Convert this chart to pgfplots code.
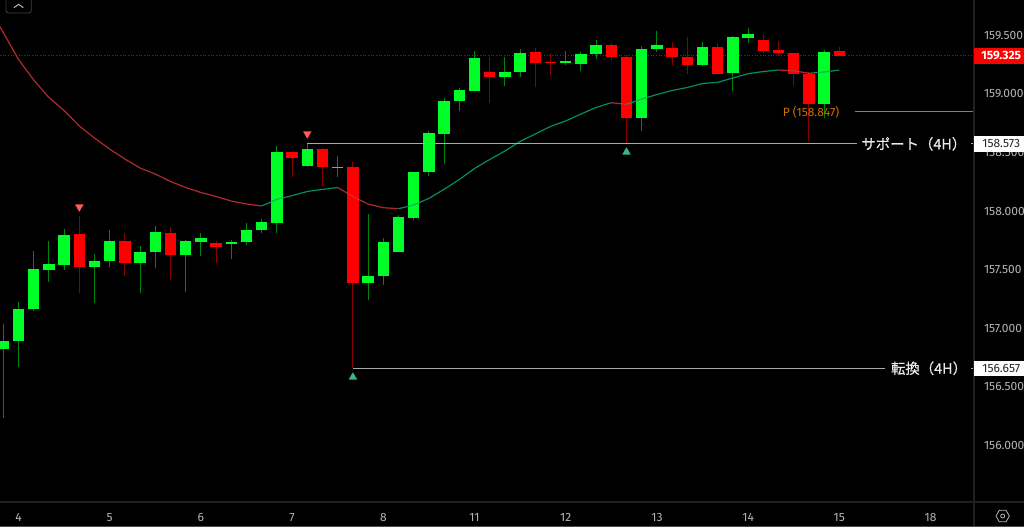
\documentclass[border=0pt]{standalone}
\usepackage{fontspec}
\usepackage{pgfplots}
\usepackage{pgfplotstable}
\pgfplotsset{compat=1.18}
\usetikzlibrary{shapes.geometric}
\setmainfont{Fira Sans}
\newfontfamily\jp[FakeBold=0.4]{Noto Sans CJK JP}
\definecolor{gbody}{RGB}{0,255,40}
\definecolor{rbody}{RGB}{255,0,0}
\definecolor{gwick}{RGB}{0,135,10}
\definecolor{rwick}{RGB}{140,0,0}
\definecolor{emar}{RGB}{205,50,55}
\definecolor{emag}{RGB}{8,165,110}
\definecolor{levelc}{RGB}{170,170,170}
\definecolor{pivotc}{RGB}{200,115,0}
\definecolor{axc}{RGB}{30,32,38}
\definecolor{txt}{RGB}{178,180,184}
\definecolor{currc}{RGB}{150,25,15}
% i  body top, body bottom, high, low
\pgfplotstableread{
i top bot hi lo
0 156.890 156.819 157.032 156.235
1 157.161 156.887 157.220 156.670
2 157.502 157.163 157.658 157.149
3 157.545 157.499 157.746 157.394
4 157.798 157.539 157.844 157.496
6 157.573 157.524 157.630 157.212
7 157.741 157.573 157.838 157.524
9 157.647 157.556 157.701 157.302
10 157.821 157.650 157.872 157.516
12 157.741 157.624 157.752 157.306
13 157.769 157.738 157.810 157.618
15 157.738 157.721 157.752 157.593
16 157.835 157.735 157.895 157.707
17 157.903 157.835 157.934 157.815
18 158.504 157.898 158.555 157.815
20 158.527 158.387 158.572 158.378
22 158.376 158.370 158.472 158.288
24 157.445 157.385 157.977 157.237
25 157.735 157.442 157.769 157.371
26 157.946 157.650 157.963 157.650
27 158.333 157.943 158.333 157.923
28 158.664 158.336 158.683 158.299
29 158.939 158.658 158.965 158.401
30 159.036 158.937 159.050 158.851
31 159.304 159.027 159.364 159.027
33 159.190 159.144 159.313 159.070
34 159.352 159.187 159.381 159.147
37 159.284 159.264 159.364 159.249
38 159.341 159.258 159.360 159.196
39 159.415 159.338 159.460 159.296
42 159.381 158.794 159.409 158.683
43 159.420 159.381 159.540 159.360
46 159.403 159.244 159.443 159.238
48 159.483 159.176 159.495 159.025
49 159.514 159.480 159.563 159.437
54 159.360 158.914 159.375 158.797
}\upcandles
\pgfplotstableread{
i top bot hi lo
5 157.804 157.524 157.957 157.302
8 157.746 157.558 157.810 157.447
11 157.815 157.624 157.861 157.411
14 157.727 157.693 157.744 157.556
19 158.504 158.455 158.504 158.293
21 158.532 158.373 158.538 158.216
23 158.376 157.385 158.418 156.657
32 159.190 159.144 159.313 158.920
35 159.355 159.264 159.389 159.056
36 159.270 159.264 159.347 159.161
40 159.415 159.313 159.432 159.284
41 159.315 158.794 159.332 158.572
44 159.389 159.313 159.441 159.244
45 159.315 159.244 159.489 159.170
47 159.403 159.173 159.432 159.173
50 159.460 159.369 159.512 159.347
51 159.375 159.349 159.452 159.324
52 159.352 159.173 159.352 159.070
53 159.173 158.914 159.190 158.598
55 159.364 159.324 159.398 159.324
}\downcandles
\pgfplotstableread{
i ema
-0.22 159.574
1 159.294
2 159.119
3 158.969
4 158.858
5 158.726
6 158.623
7 158.529
8 158.444
9 158.367
10 158.316
11 158.252
12 158.201
13 158.158
14 158.124
15 158.085
16 158.060
17 158.043
18 158.100
19 158.131
20 158.167
21 158.184
22 158.201
23 158.124
24 158.060
25 158.028
26 158.020
27 158.051
28 158.108
29 158.185
30 158.269
31 158.363
32 158.440
33 158.512
34 158.594
35 158.658
36 158.722
37 158.769
38 158.828
39 158.884
40 158.925
41 158.911
42 158.956
43 158.995
44 159.029
45 159.055
46 159.089
47 159.099
48 159.136
49 159.173
50 159.191
51 159.204
52 159.198
53 159.176
54 159.187
55 159.204
}\ematable
\newcommand{\emaseg}[3]{\addplot[draw=#1,line width=.9pt,opacity=.85,restrict x to domain=#2:#3] table[x=i,y=ema]{\ematable};}
\newcommand{\candles}[3]{%
 \addplot[draw=none,mark=none,error bars/.cd,y dir=minus,y explicit,error mark=none,
   error bar style={line width=.8pt,draw=#2}]
   table[x=i,y=hi,y error minus expr=\thisrow{hi}-\thisrow{lo}]{#1};
 \addplot[draw=none,mark=none,error bars/.cd,y dir=minus,y explicit,error mark=none,
   error bar style={line width=8.6pt,draw=#3}]
   table[x=i,y=top,y error minus expr=\thisrow{top}-\thisrow{bot}]{#1};
}
\begin{document}
\begin{tikzpicture}
\useasboundingbox (0,0) rectangle (768pt,395.25pt);
\fill[black] (0,0) rectangle (768pt,395.25pt);
\begin{axis}[
  at={(0pt,18.75pt)},anchor=south west,
  scale only axis,width=730.5pt,height=376.5pt,
  xmin=-0.217,xmax=63.86,ymin=155.515,ymax=159.802,
  clip=true,
  axis line style={draw=none},
  tick style={draw=none},
  xtick={1,7,13,19,25,31,37,43,49,55,61},
  xticklabels={4,5,6,7,8,11,12,13,14,15,18},
  ytick={156,156.5,157,157.5,158,158.5,159,159.5},
  yticklabel pos=right,
  /pgf/number format/.cd,fixed,fixed zerofill,precision=3,1000 sep={},assume math mode=true,
  /pgfplots/.cd,
  tick label style={font=\fontsize{9}{11}\selectfont,text=txt},
  xticklabel style={yshift=-5.25pt},
  yticklabel style={anchor=west,xshift=4pt},
]
% current price, dotted
\addplot[draw=currc,line width=.8pt,dash pattern=on .8pt off 1.2pt] coordinates {(-0.217,159.325)(63.86,159.325)};
\candles{\upcandles}{gwick}{gbody}
\candles{\downcandles}{rwick}{rbody}
% moving average, coloured by direction
\emaseg{emar}{-0.3}{17}
\emaseg{emag}{17}{22}
\emaseg{emar}{22}{26}
\emaseg{emag}{26}{40}
\emaseg{emar}{40}{41}
\emaseg{emag}{41}{51}
\emaseg{emar}{51}{53}
\emaseg{emag}{53}{55}
% levels
\addplot[draw=levelc,line width=.75pt] coordinates {(20,158.573)(56.15,158.573)};
\addplot[draw=levelc,line width=.75pt] coordinates {(63.65,158.573)(63.86,158.573)};
\addplot[draw=levelc,line width=.75pt] coordinates {(23,156.657)(58,156.657)};
\addplot[draw=levelc,line width=.75pt] coordinates {(63.65,156.657)(63.86,156.657)};
\addplot[draw=pivotc,line width=.9pt] coordinates {(56.03,158.847)(63.86,158.847)};
% signals
\addplot[only marks,mark=triangle*,mark size=4.2pt,mark options={fill=red!65!white,draw=none,rotate=180}]
  coordinates {(5,158.034)(20,158.658)};
\addplot[only marks,mark=triangle*,mark size=4.2pt,mark options={fill=emag!80!white,draw=none}]
  coordinates {(23,156.582)(41,158.504)};
\coordinate (p1) at (axis cs:63.86,159.325);
\coordinate (p2) at (axis cs:63.86,158.573);
\coordinate (p3) at (axis cs:63.86,156.657);
\coordinate (l1) at (axis cs:59.9,158.573);
\coordinate (l2) at (axis cs:60.9,156.657);
\coordinate (l3) at (axis cs:53.14,158.847);
\end{axis}
% frame of the panes
\draw[axc,line width=.8pt] (730.5pt,0) -- (730.5pt,395.25pt);
\draw[axc,line width=.8pt] (0,18.75pt) -- (768pt,18.75pt);
\draw[black!70!white,line width=.5pt] (0,.2pt) -- (768pt,.2pt);
% labels
\node[fill=rbody,text=white,inner sep=0pt,minimum width=37.5pt,minimum height=11.6pt,anchor=west,font=\fontsize{9}{11}\selectfont\bfseries] (b1) at (p1) {\hspace*{3pt}159.325};
\node[fill=white,text=black!85,inner sep=0pt,minimum width=37.5pt,minimum height=11.6pt,anchor=west,font=\fontsize{9}{11}\selectfont] at (p2) {\hspace*{3pt}158.573};
\node[fill=white,text=black!85,inner sep=0pt,minimum width=37.5pt,minimum height=11.6pt,anchor=west,font=\fontsize{9}{11}\selectfont] at (p3) {\hspace*{3pt}156.657};
\node[text=white!92!black,inner sep=0pt,font=\fontsize{10.8}{12}\selectfont\jp] at (l1) {サポート（4H）};
\node[text=white!92!black,inner sep=0pt,font=\fontsize{10.8}{12}\selectfont\jp] at (l2) {転換（4H）};
\node[text=pivotc,inner sep=0pt,font=\fontsize{9}{10}\selectfont] at (l3) {P (158.847)};
% chevron button and settings icon
\draw[black!75!white,line width=.6pt,rounded corners=2pt] (4.5pt,398pt) -- (4.5pt,385.5pt) -- (23.5pt,385.5pt) -- (23.5pt,398pt);
\draw[white!70!black,line width=.8pt] (10.5pt,389.5pt) -- (14pt,392pt) -- (17.5pt,389.5pt);
\node[draw=txt,line width=.6pt,regular polygon,regular polygon sides=6,minimum size=10pt,inner sep=0pt] at (752pt,8.2pt) {};
\draw[txt,line width=.6pt] (752pt,8.2pt) circle (1.5pt);
\end{tikzpicture}
\end{document}
